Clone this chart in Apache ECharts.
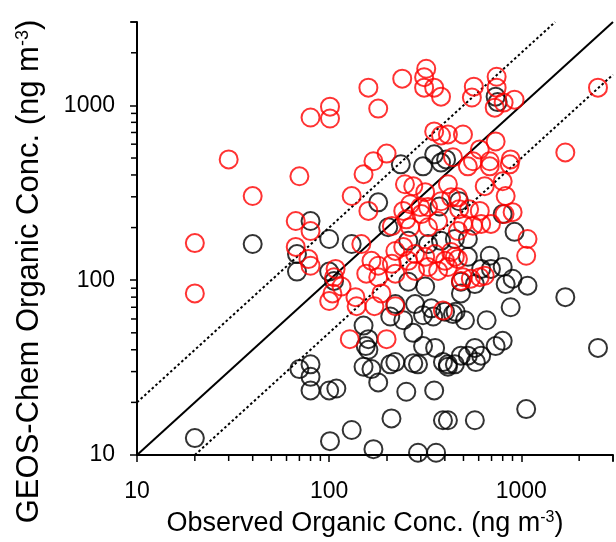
<!DOCTYPE html>
<html lang="en">
<head>
<meta charset="utf-8">
<script src="https://cdn.jsdelivr.net/npm/echarts@6/dist/echarts.min.js"></script>
<style>
    html, body { margin: 0; padding: 0; background: #fff; }
    #chart { width: 616px; height: 542px; }
</style>
</head>
<body>
<div id="chart"></div>
<script>
    // black circles: observed / GEOS-Chem (ng m-3)
    const obsBlack = [40, 20, 68, 68, 80, 100, 131, 180, 203, 236, 308, 382, 406, 352, 735, 753, 375, 800, 922, 527,
        685, 527, 800, 695, 618, 485, 573, 829, 901, 1077, 1694, 880, 660, 509, 441, 2506, 800, 735, 573, 527,
        485, 580, 618, 451, 415, 1060, 573, 415, 401, 208, 243, 308, 348, 151, 274, 160, 155, 160, 308, 356,
        221, 208, 274, 290, 391, 415, 151, 166, 70, 80, 80, 80, 100, 109, 180, 252, 352, 211, 391, 131,
        101, 170, 290, 360, 475, 258, 327, 382, 451, 106, 258, 316, 221, 280, 485, 340, 100, 455]
    const modBlack = [161, 12.5, 141, 112, 218, 172, 161, 279, 201, 460, 448, 471, 491, 525, 1122, 1045, 264, 239, 189, 172,
        138, 136, 119, 116, 116, 98, 95, 95, 102, 93, 80, 70, 59, 59, 64, 41, 45, 42, 41, 37,
        37, 34, 37, 33, 33, 18.3, 15.8, 15.8, 66, 62, 59, 63, 62, 55, 50, 46, 42, 40, 42, 41,
        34, 33, 33.5, 33, 34, 32, 32, 31, 31, 33, 28, 23.4, 23.4, 24, 26, 23, 23.4, 16.2, 15.8, 13.9,
        12, 10.8, 10.3, 10.3, 283, 168, 161, 168, 172, 99, 98, 92, 73, 73, 84, 69, 112, 66]

    // red circles
    const obsRed = [20, 20, 30, 40, 70, 67, 67, 78, 80, 80, 80, 101, 101, 160, 180, 240, 320, 312, 312, 352,
        382, 566, 553, 744, 744, 922, 809, 727, 2506, 1694, 352, 382, 415, 497, 735, 608, 880, 441, 560, 685,
        170, 199, 151, 131, 160, 248, 274, 316, 415, 243, 298, 527, 685, 870, 645, 800, 829, 468, 535, 608,
        818, 901, 497, 560, 618, 695, 468, 1077, 1060, 431, 468, 497, 546, 608, 645, 139, 172, 221, 391, 128,
        199, 106, 100, 264, 302, 327, 382, 431, 475, 369, 327, 264, 252, 212, 221, 243, 280, 212, 258, 180,
        166, 156, 180, 221, 280, 316, 356, 401, 451, 415, 369, 327, 147, 108, 104, 116, 137, 187, 485]
    const modRed = [163, 84, 491, 303, 393, 218, 155, 132, 121, 191, 853, 984, 841, 1263, 959, 1422, 1621, 1450, 1263, 1263,
        1122, 1280, 1110, 1459, 1263, 1079, 1038, 971, 1263, 538, 710, 673, 682, 682, 622, 560, 491, 505, 479, 479,
        479, 530, 404, 303, 249, 354, 345, 319, 354, 249, 262, 448, 448, 460, 345, 368, 303, 298, 255, 249,
        239, 245, 210, 205, 210, 210, 191, 172, 138, 145, 132, 104, 102, 104, 106, 71, 71, 71, 67, 46,
        46, 104, 76, 272, 239, 262, 283, 298, 255, 218, 201, 201, 223, 204, 147, 155, 141, 124, 129, 121,
        129, 109, 104, 109, 113, 136, 141, 129, 136, 119, 113, 119, 161, 116, 84, 92, 80, 84, 99]

    const majorTicks = [10, 100, 1000]
    const minorTicks = [20, 30, 40, 50, 60, 70, 80, 90, 200, 300, 400, 500, 600, 700, 800, 900, 2000, 3000]

    // 1:1 and factor-of-2 lines
    const oneToOne = [[10, 10], [3000, 3000]]
    const twoToOne = [[10, 20], [1500, 3000]]
    const oneToTwo = [[20, 10], [3000, 1500]]

    const font = "'Liberation Sans', Arial, sans-serif"
    const toPairs = (xs, ys) => xs.map((x, i) => [x, ys[i]])

    function tickLabel(v) {
        let r = Math.round(v)
        return majorTicks.indexOf(r) >= 0 ? String(r) : ''
    }

    function logAxis(name, gap, labelMargin, nameSize, namePad) {
        return {
            type: 'log',
            logBase: 10,
            min: 10,
            max: 3000,
            name: name,
            nameLocation: 'middle',
            nameGap: gap,
            nameTextStyle: {
                fontFamily: font, fontSize: nameSize, color: '#000', padding: namePad,
                rich: { sup: { fontFamily: font, fontSize: Math.round(nameSize * 0.58), color: '#000', verticalAlign: 'top', lineHeight: 16 } }
            },
            splitLine: { show: false },
            axisLine: { onZero: false, lineStyle: { color: '#000', width: 2 } },
            axisTick: { length: 7, lineStyle: { color: '#000', width: 1.5 } },
            minorTick: { show: false },
            axisLabel: { formatter: tickLabel, fontFamily: font, fontSize: 23, color: '#000', margin: labelMargin }
        }
    }

    // minor ticks at 2..9 of each decade, placed through the axis scale
    function minorTickSeries(axis) {
        return {
            type: 'custom',
            silent: true,
            clip: false,
            z: 5,
            data: minorTicks.map(v => axis === 'x' ? [v, 10] : [10, v]),
            renderItem: function (params, api) {
                let p = api.coord([api.value(0), api.value(1)])
                let shape = axis === 'x'
                    ? { x1: p[0], y1: p[1], x2: p[0], y2: p[1] + 6 }
                    : { x1: p[0], y1: p[1], x2: p[0] - 6, y2: p[1] }
                return { type: 'line', shape: shape, style: { stroke: '#000', lineWidth: 1.5 } }
            }
        }
    }

    function refLine(data, type, width) {
        return {
            type: 'line',
            data: data,
            symbol: 'none',
            silent: true,
            z: 1,
            lineStyle: { color: '#000', width: width, type: type }
        }
    }

    function circles(data, color) {
        return {
            type: 'scatter',
            data: data,
            symbol: 'circle',
            symbolSize: 18,
            silent: true,
            z: 3,
            itemStyle: { color: 'rgba(0,0,0,0)', borderColor: color, borderWidth: 2 }
        }
    }

    let chart = echarts.init(document.getElementById('chart'))
    chart.setOption({
        animation: false,
        backgroundColor: '#fff',
        grid: { left: 137, right: 0, top: 22, bottom: 85, containLabel: false },
        xAxis: logAxis('Observed Organic Conc. (ng m{sup|-3})', 55, 25, 27, [0, 20, 0, 0]),
        // y title sits lower than the axis middle in the original
        yAxis: logAxis('GEOS-Chem Organic Conc. (ng m{sup|-3})', 92, 22, 31, [0, 66, 0, 0]),
        series: [
            refLine(oneToOne, 'solid', 2),
            refLine(twoToOne, [2.5, 2.5], 2),
            refLine(oneToTwo, [2.5, 2.5], 2),
            circles(toPairs(obsBlack, modBlack), '#000'),
            circles(toPairs(obsRed, modRed), '#ff0000'),
            minorTickSeries('x'),
            minorTickSeries('y')
        ]
    })
</script>
</body>
</html>
